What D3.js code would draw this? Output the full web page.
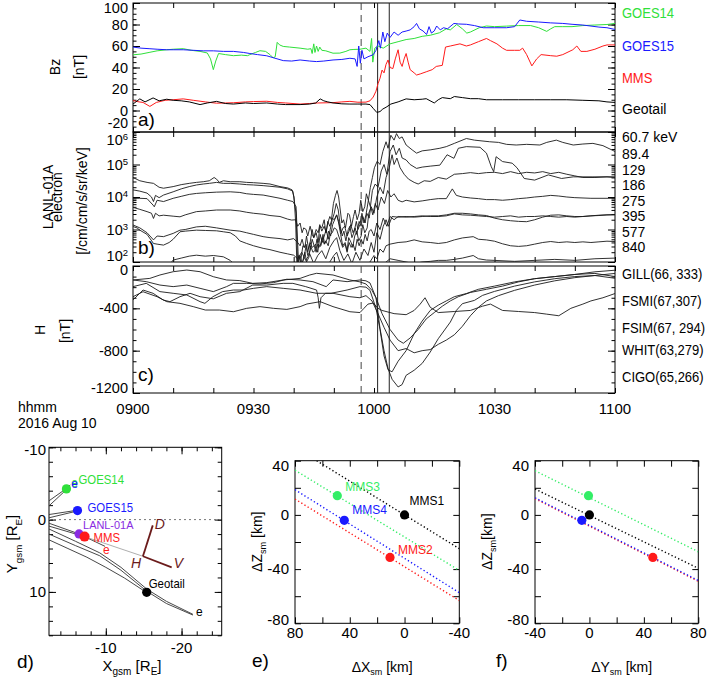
<!DOCTYPE html>
<html><head><meta charset="utf-8">
<script src="https://cdn.jsdelivr.net/npm/d3@7"></script>
<style>body{margin:0;background:#fff}svg{font-family:"Liberation Sans",Arial,sans-serif}</style>
</head><body><svg id="c" width="709" height="679"></svg>
<script>
// ---------- DATA ----------
const timeTicks = [0, 30, 60, 90, 120];           // minutes after 0900 UT
const timeLabels = ["0900", "0930", "1000", "1030", "1100"];
const eventLines = [56.8, 60.9, 63.8];            // dashed, solid, solid

// Panel a: Bz [nT]  [minutes, nT]
const goes14 = [[0,51.8],[2,52.5],[4,54],[6,55.5],[8.4,56.5],[10,57],[12.5,57.5],[14.5,56],[16.7,55],[18.5,53.5],[19.3,48],[20,38],[20.6,46],[21.3,53],[23,52],[25,51],[27,51.5],[28.5,51],[29.1,52],[30.5,54],[31.6,55.6],[33,55],[34.1,52],[34.9,49],[35.4,50],[35.9,63.4],[36.5,61],[37.4,59.6],[39,59],[41.6,58],[43.5,57],[44.3,57.5],[44.6,53],[45,62],[45.3,54],[45.7,60],[46.1,55],[46.5,59],[47,56],[48,55.5],[49.8,53.3],[51.5,53.4],[53,55],[54,56.5],[55,56.8],[56.5,57],[58,58],[59,55],[59.4,67],[59.7,45],[60.2,58],[61,60],[62.3,58],[64,62],[66,64],[68,66],[70,67],[72,69],[74,70],[76.3,72.3],[78,76],[79,75],[80.6,80],[82,76],[83.1,72],[84,73],[86.2,77],[88,78.6],[90,78],[93,78.5],[96,79],[99,79],[101,77],[103,73.6],[104,76],[105,78],[107,78],[109.3,78],[112,79],[115,79.5],[118,80],[120,81]];
const goes15 = [[0,59],[2,58],[4,57.5],[6,57],[8.4,56.5],[10,56.5],[12.5,56.5],[15,56],[17.5,55.5],[20,55.5],[22.5,55],[25,55],[27.5,54],[29.1,53],[31,52],[33.3,50.9],[35,49],[37.4,46.4],[39.5,46],[41.6,47],[44,46],[45.7,45.5],[47.5,46],[49.8,47],[52,47.5],[54,48.6],[55.3,48],[55.8,41],[56.2,60],[56.6,44],[57,56],[57.5,48],[58.5,50],[59.8,51.9],[60.5,56],[61.2,65],[61.6,58],[62.2,73],[62.7,64],[63.3,72],[64,68],[65,73],[66,70],[67,73],[68,73.9],[69,75],[70,78],[70.6,81],[71.3,76],[72.2,74],[73.1,70.7],[73.7,78],[74.3,72],[75,74],[75.6,78.6],[76.5,75],[77.3,77],[78.3,76],[79.9,81],[81,80.5],[83,80.2],[85,79],[87.2,77],[90,77],[93,77],[95,78],[96.3,84.2],[98,83],[101,82.3],[104,81.5],[107,81],[109.3,80.2],[112,79.5],[116,77.6],[118,77],[120,75.4]];
const mmsBz = [[0,9.2],[1.5,8],[2.5,7.5],[4.2,3.8],[5.8,7.5],[8,9.5],[10,10],[12.5,10.8],[15,9.5],[18,8],[20.8,6.8],[23,7],[25,7.2],[28,8],[30,8.3],[33.3,8.6],[36,7.5],[38,7],[41.6,6],[44,6.5],[46,7],[49.8,7.3],[52,8],[54,8.5],[56,7.7],[58,7.8],[59,9],[59.8,12.5],[60.5,18],[61,25],[61.5,30],[62,37.6],[62.5,35],[63,43],[63.5,47],[64,40],[64.7,39],[65.3,48],[66,56.5],[66.5,45],[67,41],[67.5,48],[68,53],[68.5,45],[69,38],[70,35],[70.6,33],[71.5,34],[73,36],[74.5,38],[75.5,41],[77,42],[77.8,59],[79,60],[81.4,62],[83,60],[84,61],[86,64],[88,67],[89,65],[90.6,62],[92,58],[93,56],[95,56],[96.3,56],[97,58],[98,52],[99.3,41.5],[100.5,48],[101.6,52],[104,51],[105.5,50.5],[107,52],[109.5,56.5],[110.5,60],[111.5,55],[113,55],[115,57],[117,60],[118,61],[120,61]];
const geotailBz = [[0,6],[1.7,10.8],[3,8],[5,11.7],[6.5,9],[8.4,10.5],[10,9.5],[12,9],[14,8],[16.7,5.5],[18.5,7],[20.8,8.5],[23,6.5],[25,6],[28,7],[30,6.5],[33.3,7],[36,6],[38,5.5],[41.6,5.5],[44,6],[45.5,7],[46.6,10.8],[47.5,9],[48.5,8],[49.8,7],[52,6.2],[54,6],[56,6],[58,6],[59,5.5],[59.8,2],[60.7,-1.8],[61.5,-1],[62.2,1.4],[63,3],[64.2,6],[66,8],[68,10.8],[70,10],[72,10.5],[73,11],[75,7],[76,10],[77,12],[79,11],[80,13],[82,12],[84,11],[86,11],[88,10],[92,10],[96,10],[100,10],[104,10],[108,10],[112,9.5],[116,9],[118,8],[120,7.5]];
const bzNames = ["GOES14", "GOES15", "MMS", "Geotail"];

// Panel b: LANL-01A electron flux, log10(/cm/cm/s/sr/keV)  [minutes, log10 flux]
const lanl607 = [[0,4.6],[1.7,4.5],[3.5,4.45],[5.1,4.42],[6.5,4.3],[7.6,4.27],[10,4.32],[12,4.38],[14,4.42],[15.8,4.45],[17.5,4.47],[19,4.5],[20.2,4.6],[20.8,4.55],[21.5,4.45],[22.5,4.5],[24.2,4.47],[26.6,4.47],[28.3,4.45],[30,4.44],[32.4,4.42],[34.1,4.4],[36.6,4.32],[38.5,4.28],[39.6,4.22],[40.1,4.0],[40.5,3.2],[40.8,1.9],[41.3,2.2],[41.7,2.0],[42.3,2.5],[42.8,2.45],[43.2,2.8],[43.7,2.4],[44.1,2.6],[44.6,3.0],[45.0,2.75],[45.6,2.9],[46.1,2.6],[46.5,3.1],[47.0,3.05],[47.6,3.3],[48.0,2.9],[48.5,3.2],[49.0,3.4],[49.4,3.3],[49.9,3.8],[50.4,4.05],[50.8,4.2],[51.2,4.0],[51.6,3.6],[52.0,3.2],[52.4,3.3],[52.9,3.05],[53.5,3.5],[53.9,3.45],[54.4,3.1],[54.9,3.4],[55.3,3.6],[55.8,3.3],[56.3,3.5],[56.7,3.9],[57.2,3.55],[57.7,3.7],[58.1,4.1],[58.6,3.9],[59.1,4.3],[59.6,4.6],[60.1,4.9],[60.8,5.1],[61.5,5.0],[62.2,5.4],[63,5.7],[63.5,5.5],[64.2,5.9],[65,5.75],[65.6,5.95],[66.3,5.8],[67,5.85],[68,5.6],[69.5,5.45],[70.6,5.35],[72,5.42],[74,5.45],[76.4,5.5],[78,5.55],[80,5.65],[83,5.8],[85,5.75],[88.8,5.7],[91,5.68],[93,5.62],[95.4,5.6],[98,5.62],[101.3,5.6],[103,5.68],[105.4,5.75],[107,5.68],[109.6,5.6],[112,5.63],[114.5,5.65],[117,5.58],[119.5,5.43],[120,5.4]];
const lanl894 = [[0,4.22],[1.7,4.18],[3.5,4.12],[4.6,4.0],[5.1,3.86],[5.6,4.05],[6.5,3.98],[7.6,4.06],[10,4.16],[12,4.25],[14,4.32],[15.8,4.37],[17.5,4.4],[19,4.42],[20.8,4.45],[22.5,4.42],[24.2,4.42],[26.6,4.4],[28.3,4.38],[30,4.37],[32.4,4.35],[34.1,4.33],[36.6,4.3],[38.5,4.25],[39.8,4.18],[40.6,3.5],[41,1.9],[41.6,2.2],[42.1,1.95],[42.5,2.1],[43.1,2.5],[43.5,2.2],[44.1,2.35],[44.6,2.7],[45.1,2.5],[45.5,2.55],[46.0,2.3],[46.6,2.85],[47.1,2.6],[47.5,2.75],[48.1,3.0],[48.6,2.7],[49.1,3.0],[49.6,3.3],[50.1,3.5],[50.6,3.8],[51.1,3.6],[51.6,3.1],[52.1,2.8],[52.5,2.95],[53.0,2.65],[53.6,3.0],[54.0,3.1],[54.5,2.75],[55.0,2.9],[55.6,3.25],[56.0,3.0],[56.5,3.15],[57.0,3.5],[57.5,3.2],[58.0,3.45],[58.6,3.9],[59.1,3.7],[59.6,4.2],[60.3,4.4],[61,4.3],[61.8,4.8],[62.5,5.0],[63.2,4.7],[64,5.4],[64.8,5.6],[65.5,5.3],[66.3,5.5],[67,5.2],[68,5.14],[69,5.0],[70.6,4.88],[72,4.92],[74,4.95],[76.4,4.98],[78.2,5.3],[79.9,5.19],[81,5.5],[83,5.55],[86.4,5.53],[88,5.35],[89.2,4.93],[89.8,4.78],[90.4,5.24],[92,5.09],[94.4,5.04],[95.6,4.9],[97.4,4.57],[100,4.52],[103.4,4.68],[106.7,4.57],[109.6,4.62],[114.5,4.62],[120,4.62]];
const lanl129 = [[0,3.96],[1.7,3.96],[3.5,3.95],[5.0,3.75],[5.3,3.7],[6,3.9],[7.6,3.86],[10,3.96],[12,4.02],[14,4.08],[15.8,4.11],[18,4.13],[20.8,4.15],[24.2,4.16],[26.6,4.14],[28.3,4.1],[30,4.08],[32.4,4.06],[34.1,4.02],[36.6,3.96],[38.5,3.9],[39.8,3.86],[40.6,3.7],[41.2,2.0],[41.7,1.85],[42.3,2.05],[42.8,2.3],[43.2,2.0],[43.8,2.15],[44.2,2.5],[44.8,2.3],[45.3,2.35],[45.8,2.7],[46.2,2.45],[46.8,2.5],[47.3,2.85],[47.7,2.55],[48.3,2.7],[48.7,2.95],[49.2,2.8],[49.7,3.15],[50.2,3.3],[50.7,3.45],[51.2,3.2],[51.7,2.85],[52.2,2.5],[52.8,2.6],[53.3,2.35],[53.7,2.75],[54.3,2.6],[54.7,2.45],[55.2,2.8],[55.7,2.95],[56.2,2.65],[56.8,2.8],[57.2,3.15],[57.7,2.9],[58.3,3.05],[58.7,3.5],[59.3,3.7],[60,3.5],[60.7,4.0],[61.5,4.3],[62.3,4.1],[63,4.6],[63.8,4.9],[64.5,5.3],[65,5.0],[65.7,5.2],[66.5,4.9],[67.5,4.7],[68.6,4.55],[70,4.45],[71,4.4],[72.5,4.5],[74,4.48],[76,4.6],[78,4.55],[80,4.7],[82,4.72],[84,4.75],[86,4.72],[88,4.75],[90,4.76],[92,4.72],[94,4.78],[96,4.72],[98,4.76],[100,4.74],[102,4.78],[104,4.72],[106,4.76],[108,4.7],[110,4.65],[112,4.6],[115,4.6],[118,4.62],[120,4.6]];
const lanl186 = [[0,3.68],[1.7,3.62],[3.5,3.55],[4.6,3.5],[5.1,3.34],[5.6,3.5],[6.5,3.42],[7.6,3.44],[10,3.41],[11.7,3.39],[13,3.45],[15.8,3.55],[18,3.57],[20.8,3.6],[24.2,3.6],[26.6,3.57],[28.3,3.53],[30,3.5],[32.4,3.47],[34.1,3.43],[36.6,3.4],[38.5,3.32],[39.5,3.29],[40.5,3.3],[41,3.1],[41.6,3.2],[42.1,2.9],[42.5,3.05],[43.1,3.0],[43.5,2.8],[44.1,3.1],[44.6,2.85],[45.0,2.75],[45.6,3.0],[46.1,2.9],[46.5,3.15],[47.0,2.95],[47.6,3.1],[48.1,2.9],[48.5,3.25],[49.0,3.1],[49.6,3.35],[50.1,3.3],[50.7,3.45],[51.2,3.25],[51.8,2.9],[52.3,3.05],[52.7,3.1],[53.3,2.8],[53.8,2.95],[54.2,3.15],[54.8,2.9],[55.3,3.05],[55.7,2.85],[56.3,3.25],[56.8,3.1],[57.2,3.4],[57.8,3.2],[58.2,3.5],[58.8,3.35],[59.2,3.7],[59.7,3.45],[60.3,3.8],[61,3.6],[61.8,4.0],[62.6,3.8],[63.4,4.2],[64.2,4.0],[65,4.1],[66,3.9],[67,3.85],[68,3.9],[70,3.85],[72,3.88],[74,3.92],[76,3.95],[78,3.95],[79.5,4.25],[80.5,4.05],[82,4.0],[84,3.97],[86,3.95],[88,3.92],[90,3.92],[92,3.9],[94,3.92],[96,3.95],[98,3.97],[100,4.0],[102,4.02],[104,4.05],[106,4.03],[108,4.0],[110,3.98],[114,3.96],[120,3.96]];
const lanl275 = [[0,3.14],[1.7,3.05],[3.5,2.9],[5.1,2.68],[6,2.8],[7.6,2.78],[10,2.88],[11.7,2.98],[13,3.0],[15.8,3.08],[18,3.1],[20.8,3.05],[24.2,2.98],[26.6,2.95],[28.3,2.9],[30,2.85],[32.4,2.78],[34.1,2.75],[36.6,2.72],[38.5,2.68],[40,2.72],[41,2.6],[41.6,2.5],[42.1,2.7],[42.6,2.45],[43.1,2.55],[43.5,2.3],[44.1,2.6],[44.6,2.45],[45.1,2.5],[45.6,2.3],[46.0,2.55],[46.6,2.5],[47.1,2.75],[47.6,2.55],[48.0,2.65],[48.6,2.5],[49.1,2.85],[49.6,2.9],[50.1,3.05],[50.7,3.0],[51.2,2.8],[51.8,2.6],[52.2,2.45],[52.8,2.55],[53.3,2.3],[53.8,2.6],[54.3,2.45],[54.8,2.55],[55.3,2.35],[55.8,2.7],[56.3,2.5],[56.8,2.7],[57.3,2.55],[57.8,2.85],[58.3,2.65],[58.8,2.95],[59.3,3.0],[60,2.8],[60.7,3.2],[61.5,3.0],[62.3,3.35],[63.2,3.1],[64,3.4],[65,3.3],[66,3.4],[68,3.38],[70,3.4],[72,3.42],[74,3.4],[76,3.4],[78,3.42],[80,3.48],[82,3.45],[84,3.44],[86,3.42],[88,3.4],[90,3.38],[92,3.4],[94,3.42],[96,3.38],[98,3.4],[100,3.4],[102,3.42],[104,3.4],[106,3.38],[108,3.4],[110,3.38],[112,3.4],[114,3.42],[116,3.43],[118,3.45],[120,3.45]];
const lanl395 = [[0,3.09],[1,3.05],[1.7,2.98],[3.5,2.85],[5.1,2.57],[6,2.55],[7.6,2.52],[9,2.6],[10,2.7],[11.7,2.93],[13,2.95],[15.8,2.98],[18,2.97],[20.8,2.96],[22.5,2.93],[24.2,2.9],[25.5,2.8],[26.6,2.65],[28.3,2.57],[30,2.5],[32.4,2.42],[34.1,2.38],[36.6,2.3],[38.5,2.25],[40,2.21],[41,2.1],[42,2.3],[43,2.05],[44,2.25],[45,1.95],[46,2.2],[47,2.35],[48,2.1],[49,2.45],[50,2.65],[50.7,2.75],[51.5,2.35],[52.5,2.05],[53.5,2.25],[54.5,1.95],[55.5,2.3],[56.5,2.05],[57.5,2.4],[58.5,2.2],[59.3,2.6],[60,2.3],[60.7,2.9],[61.5,2.7],[62.3,3.1],[63,3.3],[63.6,3.1],[64.5,3.4],[66,3.38],[68,3.4],[70,3.38],[72,3.4],[74,3.42],[76,3.42],[78,3.45],[80,3.5],[82,3.5],[84,3.48],[86,3.45],[88,3.43],[90,3.35],[92,3.3],[94,3.27],[96,3.25],[98,3.24],[100,3.3],[102,3.38],[104,3.44],[106,3.45],[108,3.42],[110,3.4],[112,3.4],[114,3.42],[116,3.44],[118,3.45],[120,3.46]];
const lanl577 = [[0,1.8],[5,1.7],[9,1.9],[10,2.06],[12,2.12],[14,2.18],[15.8,2.21],[18,2.18],[20,2.2],[22.5,2.16],[24.2,2.05],[25,1.95],[28,1.85],[32,1.8],[36,1.75],[40,1.7],[42,1.6],[45,1.7],[48,1.8],[50,2.2],[50.7,2.3],[51.5,2.0],[53,1.7],[56,1.8],[58,1.9],[59,2.0],[60,2.2],[60.7,2.1],[61.5,2.4],[62.3,2.3],[63,2.5],[64,2.55],[66,2.6],[68,2.62],[70,2.68],[72,2.62],[74,2.6],[76,2.57],[78,2.6],[80,2.68],[82,2.74],[84.7,2.78],[86,2.7],[88,2.68],[90,2.64],[92,2.56],[94,2.5],[96,2.48],[98,2.5],[100,2.55],[102,2.6],[104,2.63],[106,2.6],[108,2.62],[110,2.6],[112,2.62],[114,2.6],[116,2.62],[118,2.64],[120,2.63]];
const lanl840 = [[0,1.5],[20,1.6],[40,1.5],[58,1.6],[60,1.7],[62,1.9],[64,2.1],[66,2.05],[68,2.0],[70,1.95],[72,2.0],[74,2.02],[76,2.05],[78,2.05],[80,2.08],[82,2.12],[84.7,2.2],[86,2.1],[88,2.06],[90,2.05],[95,2.02],[100,2.05],[105,2.08],[110,2.05],[115,2.1],[120,2.12]];
const energyLabels = ["60.7 keV", "89.4", "129", "186", "275", "395", "577", "840"];
const fluxTicks = [1e2, 1e3, 1e4, 1e5, 1e6];
const fluxTickExp = ["2", "3", "4", "5", "6"];

// Panel c: ground magnetometer H [nT]
const hGILL = [[0,-132],[4.2,-117],[6.7,-85],[10,-54],[13.4,-38],[16.7,-54],[20,-101],[23.3,-132],[26.6,-138],[29.8,-164],[33.3,-157],[37.4,-132],[41.6,-117],[44,-85],[45.7,-69],[49.8,-85],[54,-132],[56.5,-150],[58,-170],[59.5,-230],[60.5,-300],[62,-450],[64,-600],[66,-700],[67.3,-730],[69,-680],[71,-600],[73,-500],[75,-440],[77,-380],[79,-330],[81,-290],[84,-250],[88,-220],[92,-190],[96,-150],[100,-120],[105,-100],[110,-80],[115,-55],[120,-40]];
const hFSMI = [[0,-195],[3.3,-164],[6.7,-242],[10,-258],[13.4,-274],[16.7,-337],[17.9,-353],[19.9,-290],[22.3,-242],[25,-227],[27.5,-227],[30,-211],[33.3,-195],[37.4,-211],[41.6,-227],[45.7,-258],[49.8,-258],[54,-290],[56.5,-300],[58,-280],[59.5,-330],[61,-450],[62.5,-580],[64,-700],[66,-800],[68,-780],[70,-820],[72,-800],[74,-790],[76,-740],[78,-700],[80,-650],[82,-570],[84,-470],[86,-390],[88,-330],[91,-280],[95,-230],[100,-180],[105,-140],[110,-110],[115,-90],[120,-70]];
const hFSIM = [[0,-321],[2.5,-227],[5,-258],[7.5,-321],[9.2,-337],[11.7,-290],[14.2,-258],[16.7,-290],[20,-310],[23.3,-258],[26.6,-242],[29.8,-180],[33.3,-180],[37.4,-164],[39.8,-164],[43,-195],[45.7,-227],[46.1,-300],[46.4,-400],[46.8,-300],[47.9,-258],[49.3,-258],[53.3,-227],[56.5,-195],[58,-200],[59,-230],[60.5,-400],[61.5,-600],[62.5,-850],[63.5,-980],[64.5,-1000],[66,-900],[68,-800],[70,-640],[72,-520],[74,-420],[76,-370],[78,-330],[80,-290],[83,-260],[86,-220],[90,-190],[95,-150],[100,-120],[105,-100],[110,-80],[115,-70],[120,-100]];
const hWHIT = [[0,-290],[2.5,-243],[6,-290],[8.4,-337],[11.7,-353],[15,-384],[18,-416],[21.5,-416],[25,-432],[28.3,-400],[31.6,-384],[35,-400],[38.3,-410],[41.6,-384],[43.3,-359],[46.6,-337],[49.8,-384],[54,-432],[56.5,-440],[57.5,-400],[58.5,-360],[59.8,-350],[61,-400],[62,-420],[65,-450],[68,-460],[70,-420],[71.5,-360],[72.7,-300],[74,-390],[76,-440],[80,-430],[84,-420],[87,-380],[89,-360],[92,-420],[96,-430],[100,-440],[103,-455],[106,-470],[109,-400],[112,-360],[114,-330],[117,-300],[120,-260]];
const hCIGO = [[0,-132],[3.3,-148],[6.7,-180],[10,-195],[13.4,-180],[16.7,-211],[20,-242],[23.3,-195],[25,-164],[28.3,-164],[31.6,-170],[35,-157],[38.3,-125],[41.6,-132],[44.8,-148],[48.1,-195],[49.8,-132],[53.3,-148],[56.5,-132],[58,-140],[59,-160],[60.5,-300],[61.5,-590],[62.5,-800],[63.5,-970],[64.5,-1070],[66,-1143],[67,-1120],[68,-1033],[70,-985],[72,-920],[74,-813],[76,-687],[79,-530],[80.5,-420],[82,-356],[85,-325],[87,-278],[90,-240],[95,-190],[100,-150],[105,-120],[110,-100],[115,-90],[120,-116]];
const stationLabels = ["GILL(66, 333)", "FSMI(67,307)", "FSIM(67, 294)", "WHIT(63,279)", "CIGO(65,266)"];

// Panel d: spacecraft positions, GSM [RE]
const scNames = ["GOES14", "GOES15", "LANL-01A", "MMS", "Geotail"];
const scXgsm = [-4.8, -6.26, -6.47, -7.2, -15.4];
const scYgsm = [-4.25, -1.25, 1.98, 2.35, 10.05];
const orbitLines = [
  [[-2.5,-2.6],[-4.8,-4.3],[-5.3,-4.8]],
  [[-2.5,-1.9],[-4.8,-4.15],[-5.3,-4.6]],
  [[-2.5,-0.7],[-6.26,-1.3],[-6.6,-1.7]],
  [[-2.5,-0.25],[-6.26,-1.2],[-6.6,-1.45]],
  [[-2.5,0.5],[-6.47,1.98]],
  [[-2.5,0.9],[-7.2,2.35],[-9.9,3.7]],
  [[-2.5,1.3],[-6,3.0],[-9.2,4.6],[-12,6.6],[-15.4,9.6],[-18,11.3],[-21.5,13.1]],
  [[-2.5,2.0],[-6,3.6],[-9.2,5.0],[-12,7.0],[-15.4,9.9],[-18,11.6],[-21.5,13.2]],
  [[-2.5,2.8],[-5,4.0],[-7.5,5.2],[-10,6.6],[-12.5,8.1],[-15.4,10.1]]
];
const projLine = [[-7.2,2.35],[-14.9,5.07]];
const hdvH = [-14.9, 5.07];
const hdvD = [-16.2, 0.8];
const hdvV = [-18.7, 6.6];

// Panels e/f: MMS tetrahedron [km]
const mmsNames = ["MMS1", "MMS2", "MMS3", "MMS4"];
const mmsDX = [0, 10.6, 49.1, 44];
const mmsDY = [0, 46.6, -0.7, -5.6];
const mmsDZ = [0, -31.4, 14.2, -4.0];
const xzFronts = [[[64.2,40],[-40,-24.9]], [[80,11.7],[-40,-63.2]], [[80,33.0],[-40,-41.0]], [[80,18.6],[-40,-57.4]]];
const yzFronts = [[[-40,19.1],[80,-39.4]], [[-40,12.0],[80,-49.0]], [[-40,32.6],[80,-27.2]], [[-40,12.6],[80,-48.4]]];

// ---------- STYLE ----------
const GREEN = "#2fe03a", BLUE = "#1a1aff", RED = "#ff1a1a", PURPLE = "#8a2be2", MAROON = "#6b1b1b";
const mmsColors = ["#000", RED, "#33ee66", BLUE];
const svg = d3.select("#c");

function axisTicks(scale, vals, orient, pos, len) {
  const ax = orient === "left" ? d3.axisLeft(scale) : orient === "right" ? d3.axisRight(scale)
    : orient === "top" ? d3.axisTop(scale) : d3.axisBottom(scale);
  ax.tickValues(vals).tickSize(-len).tickFormat("");
  const g = svg.append("g")
    .attr("transform", (orient === "left" || orient === "right") ? `translate(${pos},0)` : `translate(0,${pos})`)
    .call(ax);
  g.select(".domain").remove();
  g.selectAll("line").attr("stroke", "#000");
  g.selectAll("text").remove();
}
function txt(x, y, s, o = {}) {
  const t = svg.append("text").text(s)
    .attr("font-size", o.size || 15).attr("fill", o.fill || "#000")
    .attr("text-anchor", o.anchor || "start").attr("font-style", o.italic ? "italic" : null);
  if (o.sx) t.attr("transform", `translate(${x},${y}) scale(${o.sx},1)`);
  else t.attr("x", x).attr("y", y);
  return t;
}
function rtext(bx, cy, parts, size) {
  const t = svg.append("text").attr("transform", `translate(${bx},${cy}) rotate(-90)`)
    .attr("text-anchor", "middle").attr("font-size", size);
  parts.forEach(p => {
    const ts = t.append("tspan").text(p[0]);
    if (p[1] === "sub") ts.attr("font-size", size * 0.65).attr("dy", size * 0.3);
    if (p[1] === "up") ts.attr("dy", -size * 0.3);
  });
  return t;
}
function clip(id, x0, y0, x1, y1) {
  svg.append("clipPath").attr("id", id).append("rect").attr("x", x0).attr("y", y0).attr("width", x1 - x0).attr("height", y1 - y0);
}

// ---------- TOP PANELS ----------
const L = 133, R = 615;
const x = d3.scaleLinear().domain([0, 120]).range([L, R]);
const pa = [3, 132], pb = [132, 262], pc = [266, 393];
const ya = d3.scaleLinear().domain([-20, 100]).range([pa[1], pa[0]]);
const yb = d3.scaleLog().domain([1e2, 1e6]).range([pb[1], pb[0]]);
const yc = d3.scaleLinear().domain([-1200, 0]).range([pc[1], pc[0]]);
const xMinor = d3.range(0, 121, 10);
const TICKFS = 14.5;

function panelFrame(p, y, major, minor) {
  [["left", L], ["right", R]].forEach(([o, pos]) => {
    axisTicks(y, major, o, pos, 7);
    axisTicks(y, minor, o, pos, 3.5);
  });
  axisTicks(x, xMinor, "top", p[0], 5);
  axisTicks(x, xMinor, "bottom", p[1], 5);
  svg.append("rect").attr("x", L).attr("y", p[0]).attr("width", R - L).attr("height", p[1] - p[0])
    .attr("fill", "none").attr("stroke", "#000").attr("stroke-width", 1);
  eventLines.forEach((t, i) => {
    svg.append("line").attr("x1", x(t)).attr("x2", x(t)).attr("y1", p[0]).attr("y2", p[1])
      .attr("stroke", i === 0 ? "#444" : "#222").attr("stroke-width", 1)
      .attr("stroke-dasharray", i === 0 ? "7,5" : null);
  });
}
clip("ca", L, pa[0], R, pa[1]); clip("cb", L, pb[0], R, pb[1]); clip("cc", L, pc[0], R, pc[1]);

// Panel a
panelFrame(pa, ya, [-20, 0, 20, 40, 60, 80, 100], d3.range(-20, 101, 5));
const lineA = d3.line().x(d => x(d[0])).y(d => ya(d[1]));
[[goes14, GREEN], [goes15, BLUE], [mmsBz, RED], [geotailBz, "#000"]].forEach(([s, c]) => {
  svg.append("path").attr("d", lineA(s)).attr("fill", "none").attr("stroke", c).attr("stroke-width", 1).attr("clip-path", "url(#ca)");
});
[-20, 0, 20, 40, 60, 80, 100].forEach(v => {
  const nudge = v === 100 ? 5 : v === -20 ? -8.5 : 0;
  txt(L - 5, ya(v) + nudge, String(v), { anchor: "end", size: v === -20 ? 14 : TICKFS }).attr("dy", "0.35em");
});
[GREEN, BLUE, RED, "#000"].forEach((c, i) => txt(622, [18, 51, 83, 114][i], bzNames[i], { fill: c, size: 14, sx: i < 3 ? 0.93 : 1 }));
rtext(60, 67, [["Bz"]], 14); rtext(84, 67, [["[nT]"]], 14);
txt(138, 126, "a)", { size: 19 });

// Panel b
const minorLog = [];
[1e2, 1e3, 1e4, 1e5].forEach(d => { for (let k = 2; k <= 9; k++) minorLog.push(d * k); });
panelFrame(pb, yb, fluxTicks, minorLog);
const lineB = d3.line().x(d => x(d[0])).y(d => yb(Math.pow(10, d[1])));
[lanl607, lanl894, lanl129, lanl186, lanl275, lanl395, lanl577, lanl840].forEach(s => {
  svg.append("path").attr("d", lineB(s)).attr("fill", "none").attr("stroke", "#1a1a1a").attr("stroke-width", 0.9).attr("clip-path", "url(#cb)");
});
fluxTicks.forEach((v, i) => {
  const nudge = i === 4 ? 8 : i === 0 ? -6 : 0;
  const t = svg.append("text").attr("x", L - 5).attr("y", yb(v) + nudge).attr("dy", "0.35em")
    .attr("text-anchor", "end").attr("font-size", TICKFS);
  t.append("tspan").text("10");
  t.append("tspan").text(fluxTickExp[i]).attr("font-size", 9.5).attr("dy", -5);
});
energyLabels.forEach((s, i) => txt(622, [142, 159, 175, 190, 206, 221, 237, 252][i], s, { size: 14 }));
rtext(53, 197, [["LANL-01A"]], 14); rtext(62, 197, [["electron"]], 14);
rtext(87, 201, [["[/cm/cm/s/sr/keV]"]], 14);
txt(138, 254, "b)", { size: 19 });

// Panel c
panelFrame(pc, yc, [-1200, -800, -400, 0], d3.range(-1200, 1, 100));
const lineC = d3.line().x(d => x(d[0])).y(d => yc(d[1]));
[hGILL, hFSMI, hFSIM, hWHIT, hCIGO].forEach(s => {
  svg.append("path").attr("d", lineC(s)).attr("fill", "none").attr("stroke", "#1a1a1a").attr("stroke-width", 0.9).attr("clip-path", "url(#cc)");
});
[-1200, -800, -400, 0].forEach(v => {
  const nudge = v === 0 ? 4 : v === -1200 ? -5 : 0;
  txt(L - 5, yc(v) + nudge, String(v), { anchor: "end", size: TICKFS }).attr("dy", "0.35em");
});
stationLabels.forEach((s, i) => txt(622, [279, 306, 333, 355, 382][i], s, { size: 14, sx: 0.93 }));
rtext(45, 330, [["H"]], 14); rtext(70, 331, [["[nT]"]], 14);
txt(138, 381, "c)", { size: 19 });

timeTicks.forEach((t, i) => txt(x(t), 414, timeLabels[i], { anchor: "middle" }));
txt(18, 412, "hhmm", { size: 14 });
txt(18, 428, "2016 Aug 10", { size: 14 });

// ---------- PANEL d ----------
const xd = d3.scaleLinear().domain([-2.5, -25.3]).range([49, 221.7]);
const yd = d3.scaleLinear().domain([-10, 16]).range([447.3, 635.3]);
axisTicks(yd, d3.range(-10, 17, 2), "left", 49, 4);
axisTicks(yd, d3.range(-10, 17, 2), "right", 221.7, 4);
axisTicks(xd, d3.range(-4, -25, -2), "top", 447.3, 4);
axisTicks(xd, d3.range(-4, -25, -2), "bottom", 635.3, 4);
axisTicks(yd, [-10, 0, 10], "left", 49, 7);
axisTicks(yd, [-10, 0, 10], "right", 221.7, 7);
axisTicks(xd, [-10, -20], "top", 447.3, 7);
axisTicks(xd, [-10, -20], "bottom", 635.3, 7);
svg.append("rect").attr("x", 49).attr("y", 447.3).attr("width", 172.7).attr("height", 188).attr("fill", "none").attr("stroke", "#000");
svg.append("line").attr("x1", 49).attr("x2", 221.7).attr("y1", yd(0)).attr("y2", yd(0))
  .attr("stroke", "#777").attr("stroke-dasharray", "2,3");
clip("cd", 49, 447.3, 221.7, 635.3);
const lineD = d3.line().x(d => xd(d[0])).y(d => yd(d[1]));
orbitLines.forEach(s => svg.append("path").attr("d", lineD(s)).attr("fill", "none").attr("stroke", "#333").attr("stroke-width", 0.9).attr("clip-path", "url(#cd)"));
svg.append("path").attr("d", lineD(projLine)).attr("fill", "none").attr("stroke", "#999").attr("stroke-width", 0.8);
[hdvD, hdvV].forEach(p => svg.append("path").attr("d", lineD([hdvH, p])).attr("fill", "none").attr("stroke", MAROON).attr("stroke-width", 1.8));
txt(xd(hdvD[0]) + 2, yd(hdvD[1]) + 4, "D", { size: 14, fill: MAROON, italic: true });
txt(xd(hdvH[0]) - 12, yd(hdvH[1]) + 12, "H", { size: 14, fill: MAROON, italic: true });
txt(xd(hdvV[0]) + 2, yd(hdvV[1]) + 1, "V", { size: 14, fill: MAROON, italic: true });
const scColors = [GREEN, BLUE, PURPLE, RED, "#000"];
const scLabOff = [[12, -5], [10, 1], [4, -5], [9, 5], [2, -4]];
scNames.forEach((n, i) => {
  svg.append("circle").attr("cx", xd(scXgsm[i])).attr("cy", yd(scYgsm[i])).attr("r", i === 3 ? 5 : 4.6).attr("fill", scColors[i]);
  txt(xd(scXgsm[i]) + scLabOff[i][0], yd(scYgsm[i]) + scLabOff[i][1], n, { size: i === 2 ? 11.5 : 12, fill: scColors[i], sx: 0.95 });
});
[[GREEN, 0, 1, 2], [BLUE, 1, 1, 2], [RED, 5, -2, 8], ["#000", 6, 3, 2]].forEach(([c, k, dx, dy]) => {
  const e = orbitLines[k][orbitLines[k].length - 1];
  txt(xd(e[0]) + dx, yd(e[1]) + dy, "e", { size: 12, fill: c });
});
[-10, 0, 10].forEach(v => txt(46, yd(v) + (v === -10 ? 2 : 0), String(v), { anchor: "end" }).attr("dy", "0.35em"));
[-10, -20].forEach(v => txt(xd(v), 653, String(v), { anchor: "middle" }));
rtext(17, 544, [["Y"], ["gsm", "sub"], [" [R", "up"], ["E", "sub"], ["]", "up"]], 15);
{
  const t = txt(132, 671, "", { anchor: "middle" });
  t.append("tspan").text("X"); t.append("tspan").text("gsm").attr("font-size", 10).attr("dy", 4);
  t.append("tspan").text(" [R").attr("dy", -4); t.append("tspan").text("E").attr("font-size", 10).attr("dy", 4);
  t.append("tspan").text("]").attr("dy", -4);
}
txt(17, 668, "d)", { size: 19 });

// ---------- PANELS e / f ----------
const yEF = d3.scaleLinear().domain([-80, 40]).range([623.3, 460.7]);
function mmsPanel(xs, x0, x1, hVals, fronts, id, xlab, ylabBase, plabX, labOffsets, showLabels) {
  [["left", x0], ["right", x1]].forEach(([o, p]) => axisTicks(yEF, d3.range(-80, 41, 20), o, p, 6));
  [["top", 460.7], ["bottom", 623.3]].forEach(([o, p]) => axisTicks(xs, d3.range(-40, 81, 20), o, p, 6));
  svg.append("rect").attr("x", x0).attr("y", 460.7).attr("width", x1 - x0).attr("height", 162.6).attr("fill", "none").attr("stroke", "#000");
  clip(id, x0, 460.7, x1, 623.3);
  const ln = d3.line().x(d => xs(d[0])).y(d => yEF(d[1]));
  fronts.forEach((f, i) => svg.append("path").attr("d", ln(f)).attr("fill", "none").attr("stroke", mmsColors[i])
    .attr("stroke-width", 1.4).attr("stroke-dasharray", "1.3,2.4").attr("clip-path", `url(#${id})`));
  mmsNames.forEach((n, i) => {
    svg.append("circle").attr("cx", xs(hVals[i])).attr("cy", yEF(mmsDZ[i])).attr("r", 4.6).attr("fill", mmsColors[i]);
    if (showLabels) txt(xs(hVals[i]) + labOffsets[i][0], yEF(mmsDZ[i]) + labOffsets[i][1], n, { size: 12, fill: mmsColors[i] });
  });
  [40, 0, -40, -80].forEach(v => txt(x0 - 6, yEF(v) + (v === 40 ? 5 : v === -80 ? -4 : 0), String(v), { anchor: "end" }).attr("dy", "0.35em"));
  [-40, 0, 40, 80].forEach(v => txt(xs(v), 638, String(v), { anchor: "middle" }));
  const t = txt((x0 + x1) / 2 + 5, 672, "", { anchor: "middle", size: 14 });
  t.append("tspan").text("Δ" + xlab); t.append("tspan").text("sm").attr("font-size", 9).attr("dy", 3);
  t.append("tspan").text(" [km]").attr("dy", -3);
  rtext(ylabBase, 541.7, [["ΔZ"], ["sm", "sub"], [id === "cf" ? "[km]" : " [km]", "up"]], 14);
  txt(plabX, 667, id === "ce" ? "e)" : "f)", { size: 19 });
}
const xe = d3.scaleLinear().domain([80, -40]).range([295, 459.3]);
const xf = d3.scaleLinear().domain([-40, 80]).range([535, 698.3]);
mmsPanel(xe, 295, 459.3, mmsDX, xzFronts, "ce", "X", 262, 252, [[5, -10], [8, -3], [8, -5], [8, -6]], true);
mmsPanel(xf, 535, 698.3, mmsDY, yzFronts, "cf", "Y", 492, 496, null, false);
</script></body></html>
